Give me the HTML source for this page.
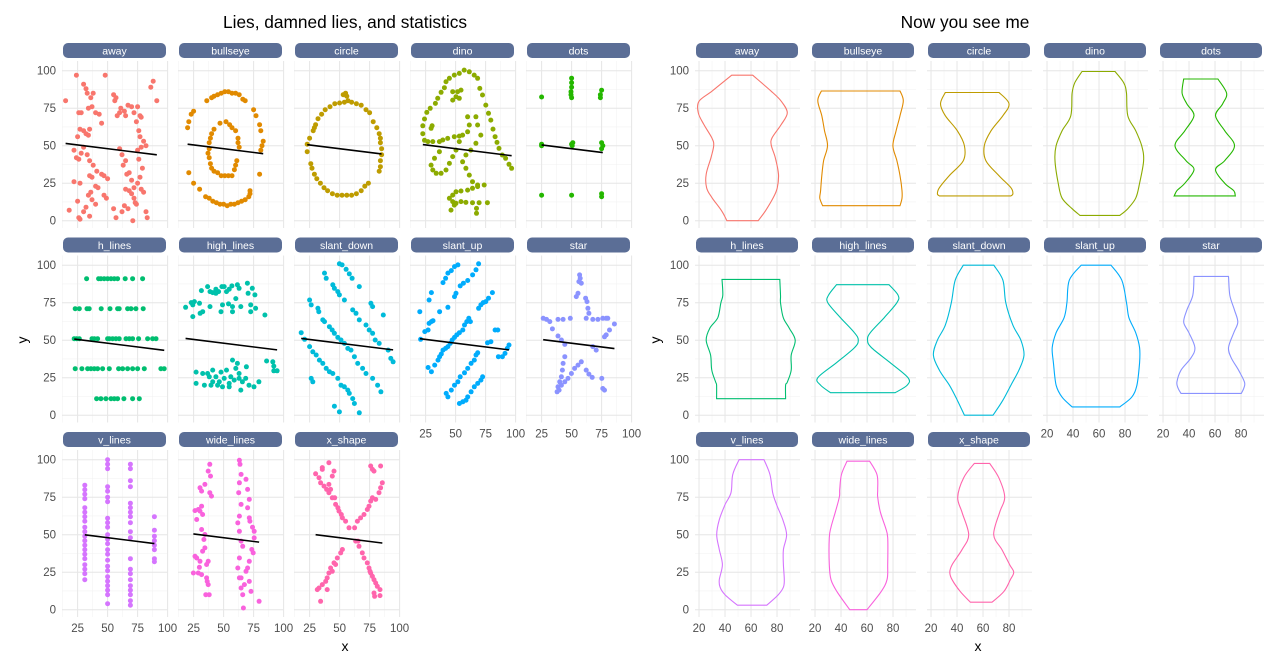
<!DOCTYPE html>
<html><head><meta charset="utf-8">
<style>
html,body{margin:0;padding:0;background:#fff;}
svg{display:block;font-family:"Liberation Sans",sans-serif;}
</style></head>
<body>
<svg id="chart" width="1280" height="667" viewBox="0 0 1280 667" xmlns="http://www.w3.org/2000/svg">
<text x="345" y="28" text-anchor="middle" font-size="17.3" fill="#000">Lies, damned lies, and statistics</text>
<text x="965" y="28" text-anchor="middle" font-size="17.3" fill="#000">Now you see me</text>
<text x="0" y="0" transform="translate(27,340) rotate(-90)" text-anchor="middle" font-size="14">y</text>
<text x="0" y="0" transform="translate(660,340) rotate(-90)" text-anchor="middle" font-size="14">y</text>
<text x="345" y="651" text-anchor="middle" font-size="14">x</text>
<text x="978" y="651" text-anchor="middle" font-size="14">x</text>
<g id="layer"></g>
</svg>
<script>
const names = ["away","bullseye","circle","dino","dots","h_lines","high_lines","slant_down","slant_up","star","v_lines","wide_lines","x_shape"];
const colors = ["#F8766D","#E18A00","#BE9C00","#8CAB00","#24B700","#00BE70","#00C1AB","#00BBDA","#00ACFC","#8B93FF","#D575FE","#F962DD","#FF65AC"];
const yTicks = [0,25,50,75,100];
const leftXTicks = [25,50,75,100];
const rightXTicks = [20,40,60,80];
const fitIntercept = 53;
const fitSlope = -0.1;

const awayPts = [[15,80],[24,97],[48,97],[91,80],[88,93],[86,89],[30,91],[32,88],[33,85],[38,85],[36,82],[28,72],[26,72],[34,75],[37,76],[40,72],[45,65],[43,71],[55,84],[57,82],[56,80],[60,72],[58,70],[61,75],[64,73],[65,70],[67,77],[70,76],[72,72],[75,76],[77,70],[78,69],[74,66],[76,60],[77,56],[80,53],[82,50],[78,49],[27,61],[30,60],[32,58],[35,61],[34,57],[25,56],[22,47],[24,42],[26,41],[28,45],[30,49],[33,44],[35,40],[38,37],[41,33],[45,31],[35,30],[37,29],[40,23],[42,22],[36,19],[34,17],[37,14],[40,11],[32,9],[25,13],[22,26],[27,25],[18,7],[26,2],[27,1],[30,6],[35,3],[47,30],[50,28],[47,17],[49,15],[55,8],[57,2],[62,6],[64,10],[65,21],[66,31],[68,32],[70,27],[72,22],[70,18],[72,15],[74,11],[67,8],[71,0],[73,12],[75,25],[77,29],[79,35],[76,41],[75,47],[78,21],[80,19],[82,6],[83,2],[62,44],[65,40],[63,37],[60,48],[68,20]];
const bullseyePts = [[45,84],[48,85],[51,86],[54,86],[57,85],[60,85],[63,84],[42,83],[40,82],[36,80],[66,81],[68,80],[75,74],[77,70],[80,64],[81,60],[83,53],[82,50],[81,47],[80,31],[72,18],[71,16],[68,14],[65,13],[62,12],[59,11],[56,11],[53,10],[50,11],[47,11],[44,12],[41,13],[38,15],[35,16],[30,21],[25,25],[21,32],[20,62],[21,66],[23,71],[25,73],[38,48],[37,45],[38,42],[39,38],[40,35],[42,33],[45,32],[48,30],[51,30],[54,30],[57,30],[38,52],[39,55],[40,58],[42,61],[47,65],[52,66],[55,64],[57,62],[60,60],[62,55],[62,52],[63,49],[61,40],[60,37],[59,34],[72,20]];
const circlePts = [[54,79],[50,78.5],[46,78],[42,76],[38,74],[35,71],[32,68],[30,64],[29,62],[28,60],[25,55],[23,51],[23,46],[26,38],[27,35],[29,31],[31,28],[34,25],[37,22],[40,20],[44,18],[48,17],[52,17],[56,17],[60,17],[64,18],[68,20],[71,23],[74,25],[83,33],[84,36],[84,40],[85,44],[85,48],[84,52],[84,55],[83,58],[81,62],[78,66],[75,72],[72,74],[68,77],[64,78],[60,79],[57,80],[53,84],[55,85],[56,83]];
const dinoPts = [[57.2,100.4],[61.4,99.3],[65.5,97.1],[68.3,94.9],[70.2,88.2],[72.4,83.8],[75.2,77.1],[77.4,71.6],[79.3,67.1],[81.2,61.1],[82.9,56],[84.5,52.2],[86.2,48.2],[88.9,43.8],[91.7,41.6],[94.5,37.6],[96.7,34.9],[53.1,98.2],[48.9,97.1],[44.8,94.9],[42,92.7],[40.7,88.7],[37.9,85.6],[35.1,81.6],[33.2,78.2],[28.8,74.9],[26,72.2],[24.1,67.8],[22.7,63.3],[22.7,58],[24.1,53.6],[26.9,52.7],[31,52.7],[36.5,52.7],[47.6,86],[51.7,86],[54.5,87.1],[50.3,82.7],[47.6,80.4],[53.1,81.6],[60,69.3],[61.4,63.8],[60,59.3],[55.8,57.1],[53.1,56.4],[48.9,56],[43.4,54.9],[39.3,53.8],[30.4,63.3],[29.6,61.6],[53.1,52.7],[50.3,47.1],[47.6,42.7],[44.8,38.2],[42,33.8],[37.9,31.6],[33.8,31.6],[31,33.8],[29.6,37.1],[32.4,41.6],[36.5,46],[66.9,69.3],[68.3,63.8],[71,57.1],[66.9,51.6],[62.7,47.1],[58.6,43.8],[55.8,39.3],[58.6,34.9],[61.4,30.4],[64.1,26],[68.3,23.8],[73.8,23.8],[44.8,14.9],[47.6,17.1],[50.3,19.3],[54.5,19.8],[60,20.4],[64.1,21.6],[68.3,22.7],[47.6,12.7],[50.3,11.6],[54.5,12.7],[58.6,12.2],[64.1,12],[69.6,12],[76.5,12],[67.4,8.2],[67.4,4.9],[46.2,7.1],[48.9,10.4]];
const dotsPts = [[25,82.5],[25,51],[25,17],[50,95],[50,92],[50,89],[49.5,86],[49.5,84],[50,82],[51,52],[50.5,50],[50,17],[75,87],[74,84],[74,82],[75,52],[76,50],[75,48],[75,16],[75,18],[50,51],[25,50]];
const hLinesPts = [[32.5,91],[42.5,91],[44.4,91],[47.2,91],[50,91],[52.8,91],[55.6,91],[58.3,91],[64.7,91],[70.8,91],[79.2,91],[23,71],[26.4,71],[32.8,71],[34.7,71],[44.7,71],[52,71],[58.3,71],[59.7,71],[66.7,71],[69.5,71],[73.6,71],[79.7,71],[22.2,51],[24.2,51],[26.4,51],[37,51],[38.9,51],[41.7,51],[50,51],[51.4,51],[54.2,51],[56.9,51],[59.7,51],[65.3,51],[68.1,51],[70.8,51],[75.8,51],[83.3,51],[87.5,51],[90.3,51],[23,31],[28.6,31],[33.3,31],[36.1,31],[38.9,31],[41.7,31],[45.8,31],[51.4,31],[59.2,31],[62.5,31],[66.7,31],[70.8,31],[75,31],[80.6,31],[94.4,31],[97.2,31],[40.8,11],[44.4,11],[48.6,11],[52.8,11],[55.6,11],[58.3,11],[63.6,11],[70.8,11],[76.4,11]];
const highLinesPts = [[18.3,71.9],[23,75.1],[24.3,73.5],[25.7,75.7],[29.9,74.6],[31.5,83.1],[32.6,69],[30.4,67.9],[36.7,85.7],[38.7,82.4],[40.9,81.7],[43.6,84],[45.8,82.4],[50.5,85.7],[52.4,82.4],[54.7,84],[56.9,86.2],[61.5,86.9],[62.9,84.6],[60.2,77.7],[57.4,72.4],[54.1,74.2],[49.1,73.5],[47.8,69],[57.4,69],[64.3,72.4],[69.8,88],[70.4,81.3],[73.9,84.6],[76.1,80.2],[72.6,73.5],[76.7,71.3],[72.6,69],[84.4,66.8],[24.3,65.7],[38.7,72.4],[43.6,81.3],[48.6,85.7],[27.1,28.7],[32.6,27.8],[38.1,25.6],[40.9,22.3],[45,20],[49.1,18.9],[54.7,21.2],[58.8,23.4],[62.9,24.5],[65.7,22.3],[68.4,24.5],[71.2,20],[64.3,16.7],[57.4,36.7],[61.5,34.5],[60.2,31.2],[52.4,30.1],[47.8,28.7],[40.9,30.1],[36.7,27.8],[27.1,21.2],[34,20],[39.5,20],[50.5,24.5],[56,25.6],[62.9,27.8],[69,32.3],[79.4,22.3],[85.8,36.1],[91,35.6],[91.8,32.7],[91.8,29.6],[94.6,29.6],[75.3,18.9],[54.7,18.9],[46.4,22.3],[43.6,25.6]];
const slantDownPts = [[18,55],[20.8,50.6],[25,45.7],[27.7,42.3],[30.5,40.1],[33.2,36.7],[36,34.5],[38.8,31.2],[41.5,29],[44.3,27.8],[26.3,24.5],[27.7,22.3],[25,76.8],[26.3,73.5],[31.9,71.3],[32.7,69],[36,63.5],[37.4,62.4],[41.5,59],[43.8,56.8],[45.7,54.6],[48.5,51.9],[51.2,50.1],[54,47.9],[56.8,44.5],[59.5,43.4],[62.3,39],[65.1,34.5],[69.2,31.2],[72,27.8],[77.5,24.5],[81.7,20],[84.4,15.6],[37.4,94.7],[38.8,91.3],[44.3,86.9],[45.7,84.6],[48.5,82.4],[49.8,80.2],[54,76.8],[60.9,70.2],[63.7,67.9],[66.4,63.5],[72,60.1],[74.7,56.8],[77.5,54.6],[79.7,50.1],[83,47.9],[90.5,43.4],[92.7,37.9],[94.6,35.6],[49.8,100.9],[52.1,100.2],[55.4,97.3],[58.1,94.2],[60.4,91.3],[66.4,85.7],[76.1,74.6],[77.5,72.4],[86.4,66.8],[48.5,24.5],[51.2,20],[54,18.9],[56.8,16.7],[58.1,14.5],[60.9,11.1],[62.3,7.8],[45.7,6],[49.8,2.2],[66.4,1.6]];
const slantUpPts = [[20.2,69],[20.8,50.6],[24.3,55.7],[27.1,56.8],[27.9,61.2],[29.8,62.4],[31.2,63],[27.1,31.8],[29.8,29],[32.6,33.4],[35.3,36.7],[36.7,39],[38.1,40.8],[39.5,43.4],[41.7,44.5],[43.6,45.7],[45.5,47.9],[47.2,50.1],[49.1,51.9],[51,53.5],[53.2,55],[56,56.8],[27.9,76.8],[29.8,81.7],[36.7,69],[43.6,71.9],[39.5,88.4],[41.7,91.3],[43.6,94.7],[46.4,96.4],[49.1,99.1],[51.9,100.2],[49.1,79.1],[50.3,81.3],[53.8,86.2],[56.5,88],[60.1,89.8],[64.2,93.5],[67,96.9],[69.2,100.9],[42.2,14.5],[43.6,12.2],[46.4,16.7],[49.1,20],[51.9,22.3],[53.8,25.6],[57.4,28.3],[60.1,31.2],[62.9,34.5],[65.6,36.7],[67,40.1],[68.4,41.6],[53.2,7.8],[56,8.9],[58.7,10],[60.1,12.2],[62.9,15.6],[65.6,18.9],[68.4,21.2],[71.1,23.4],[72.5,25.6],[57.4,60.1],[59.3,62.4],[61,64.6],[62.3,62.4],[69.2,71.3],[71.1,73.5],[73,75.1],[75.2,75.7],[77.4,78],[80.7,81.7],[76.6,48.3],[79.4,49],[82.9,56.8],[85.2,56.8],[85.7,39],[89,39],[91.2,41.2],[93.1,44.5],[94.5,46.8]];
const starPts = [[56.7,93.5],[57.2,91.3],[56.1,89.1],[58.1,88],[55.3,81.3],[53.9,79.1],[61.7,78],[62.8,75.7],[63.6,71.3],[64.4,67.9],[62.2,64.6],[67.7,63.9],[71.9,63.9],[76,64.6],[78.8,64.6],[80.2,64.6],[85.7,60.8],[81.6,56.8],[78.8,53.5],[77.4,52.3],[26.3,64.6],[29.1,63.9],[31.8,62.4],[34,57.5],[38.7,63.9],[42.9,63.9],[48.9,64.6],[38.7,52.8],[41.5,50.1],[44.3,47.2],[67.7,45.7],[70.5,43.4],[44.3,39],[42.9,34.5],[42.3,30.1],[41.5,25.6],[40.1,22.3],[38.7,18.9],[37.9,15.6],[39.6,16.7],[41.5,20],[44.3,22.3],[47,24.5],[49.8,27.8],[52.5,31.2],[55.3,33.4],[58.1,35.6],[62.2,30.1],[64.4,27.4],[67.2,25.2],[75.2,24.5],[76,17.8],[77.4,16.7]];
const vLinesPts = [[31,83],[31,80],[31,77],[31,74],[31,68],[31,65],[31,62],[31,59],[31,55],[31,52],[31,49],[31,46],[31,43],[31,40],[31,37],[31,34],[31,30],[31,27],[31,24],[31,20],[50,100],[50,97],[50,94],[50,82],[50,79],[50,75],[50,72],[50,61],[50,58],[50,55],[50,50],[50,47],[50,44],[50,40],[50,37],[50,33],[50,29],[50,26],[50,22],[50,19],[50,16],[50,13],[50,10],[50,4],[69,97],[69,94],[69,86],[69,82],[69,71],[69,68],[69,65],[69,62],[69,58],[69,52],[69,48],[69,34],[69,27],[69,24],[69,20],[69,16],[69,13],[69,10],[69,6],[69,3],[89,62],[89,53],[89,49],[89,46],[89,43],[89,40],[89,34],[89,32]];
const wideLinesPts = [[26.2,66.1],[27.6,60.1],[28.9,66.8],[30.3,65.7],[31.7,69],[32.5,63.5],[30.3,81.3],[31.7,79.1],[34.4,83.5],[37.2,92.4],[38.5,96.9],[39.1,89.1],[38.5,78],[39.9,75.7],[34.4,50.1],[31.7,53.5],[33.6,46.8],[26.2,35.6],[27.6,34.5],[30.3,32.3],[32.5,39],[34.4,41.2],[35.8,30.1],[37.2,32.3],[36.3,18.9],[37.2,16.7],[38,10],[35.2,10],[28.9,24.5],[31.7,23.4],[24.8,24.5],[35.8,21.2],[29.8,28.3],[63.2,99.6],[63.7,96.9],[64.6,90.2],[63.2,84.6],[62.6,78],[64.6,70.2],[63.2,62.4],[61.8,57.9],[63.2,52.3],[64.6,45.7],[65.9,42.3],[63.2,34.5],[61.8,27.8],[63.2,21.2],[64.6,14.5],[65.9,10],[66.5,1.1],[68.7,86.9],[70,80.2],[71.4,73.5],[70,67.9],[71.4,61.2],[71.9,59],[74.1,55],[75.5,47.9],[73.5,40.1],[74.7,37.9],[71.4,32.3],[70,27.8],[71.4,18.9],[72.8,12.2],[67.3,16.7],[79.6,5.6],[75.5,52.3],[64.6,21.2],[68.7,25.6]];
const xShapePts = [[30,90.6],[32.8,88],[34.2,84.6],[37,82.4],[39.2,80.2],[41.1,78],[43.9,74.6],[46.7,70.2],[49.5,65.7],[52.3,61.2],[55,59],[57.8,54.6],[35.6,94.7],[35.6,93.5],[41.1,83.5],[42.5,80.2],[45.9,74.6],[48.6,67.9],[51.4,63.5],[41.1,98],[45.3,92.4],[43.9,89.1],[63.4,45.7],[66.2,42.3],[68.9,37.9],[70.3,34.5],[73.1,31.2],[74.5,27.8],[75.9,24.5],[77.3,22.3],[78.7,20],[80.1,17.8],[81.4,15.6],[83.7,13.4],[78.7,11.1],[79.2,8.9],[83.7,9.4],[75.3,25.6],[85.6,84.6],[84.2,81.3],[82.8,78],[80.1,73.5],[77.3,74.6],[75.9,72.4],[74.5,69],[73.1,66.8],[70.3,63.5],[67.5,61.2],[64.8,59],[62.5,54.6],[77.3,93.5],[78.7,92.4],[84.2,95.8],[75.9,95.8],[52.3,40.1],[50.9,37.9],[48.1,34.5],[45.3,31.2],[42.5,27.8],[41.1,24.5],[39.7,21.2],[38.4,18.9],[35.6,16.7],[32.8,14.5],[31.4,13.4],[39.7,13.4],[34.2,5.6],[43.9,25.6],[46.7,30.1],[65.3,45.7]];
const scatterData = [awayPts,bullseyePts,circlePts,dinoPts,dotsPts,hLinesPts,highLinesPts,slantDownPts,slantUpPts,starPts,vLinesPts,wideLinesPts,xShapePts];

// violin outlines: [y, leftX, rightX]
const awayViolin = [[0,41.4,65.5],[6.6,37.4,71.1],[15.5,29.8,77.2],[22,25.8,80.2],[31,25.5,81.1],[42,29.2,78.7],[50.2,31.3,75.6],[55.3,29.8,76.2],[64.2,23.7,83.3],[71.9,19.4,87.9],[79.6,20,83.3],[86.3,29.8,75.6],[97,45.1,61.3]];
const bullseyeViolin = [[10,25.8,85.4],[15,23.7,86.9],[20,24.3,86.9],[30,25.2,85.4],[40,26.6,83],[50,29.6,79.9],[60,27.3,82.4],[70,25.2,85.4],[80,22.1,87.9],[86.5,24.9,85.4]];
const circleViolin = [[16.5,26.4,81.4],[18,24.9,83],[22,26.4,81.4],[30,34,72.3],[40,44.8,62.2],[50,45.7,61],[60,40.2,66.2],[70,31,75.3],[78,27.3,80],[85.5,31,72.3]];
const dinoViolin = [[3.5,45.4,76],[8,39.3,82.1],[15,31.6,88.2],[25,28.6,91.2],[40,26.1,94.3],[50,27,92.8],[60,31.6,88.2],[70,38.3,82.1],[85,39.3,81.1],[92,41.4,79],[99.5,46.9,72.3]];
const dotsViolin = [[16.5,28.6,75.6],[20,30.7,74.4],[25,36.8,67.4],[34,43.8,60.4],[40,37.7,67.4],[50,29.2,75],[60,36.8,67.4],[70,43.8,60.4],[78,38.3,65.9],[85,34.7,68.9],[94.5,35.9,62.2]];
const hLinesViolin = [[11,33.5,86.6],[20,33.5,86.6],[22,32.8,87.9],[30,29.8,90.9],[40,28.9,90.9],[50,25.5,94],[58,28.3,89.4],[65,34.4,84.8],[75,36.8,82.7],[80,38.3,82.7],[90.5,37.7,82.1]];
const highLinesViolin = [[15,31.9,81.7],[20,24.3,90.9],[25,22.1,91.5],[35,36.5,77.8],[45,50.3,63.4],[50,53.3,60.4],[55,50.3,62.5],[65,39.6,73.2],[75,29.8,83],[80,30.4,83.9],[87,36.5,76.9]];
const slantDownViolin = [[0,45.7,67.7],[10,40.2,75.3],[20,34.1,81.4],[30,26.4,87.6],[40,21.8,91.5],[50,24.9,89.1],[60,31,83],[75,35.6,77.5],[90,38.6,75.3],[100,44.8,68.3]];
const slantUpViolin = [[5.5,39.3,76],[12,31.6,85.1],[20,27,89.1],[35,24.9,91.2],[45,24,91.2],[55,27,88.2],[65,33.1,83],[75,35.3,81.1],[90,37.1,77.5],[100,46.3,69.2]];
const starViolin = [[14.5,33.8,80.2],[18,31.6,82.1],[22,30.7,82.7],[30,33.8,78.1],[38,41.4,72.6],[45,44.5,70.4],[55,39.9,74.4],[62,35.9,77.5],[70,38.3,75],[80,42.9,71.4],[92.5,43.8,70.4]];
const vLinesViolin = [[3,49.5,72.1],[10,40,81],[15,36.2,84.9],[20,35.6,85.6],[30,38,84.9],[40,35.6,84.9],[50,33.6,87.4],[60,35.6,84.4],[70,40,79.7],[78,44.6,76.7],[90,45.9,74.6],[100,50.8,70]];
const wideLinesViolin = [[0,46.7,60],[12,36.9,70.8],[20,32.3,75.4],[30,31,75.9],[48,31,75.9],[55,32.3,74.1],[65,35.6,70.3],[75,38.7,68.2],[80,39,68.2],[90,40.3,67.7],[99,44.6,62]];
const xShapeViolin = [[5,50.3,66.9],[12,42.6,75.9],[20,36.2,81],[25,34.4,83.6],[30,36.2,80.5],[40,43.8,74.6],[50,49,68.2],[65,43.8,72.8],[75,40.5,76.7],[88,45.1,72.1],[97.5,53.3,65.1]];
const violinData = [awayViolin,bullseyeViolin,circleViolin,dinoViolin,dotsViolin,hLinesViolin,highLinesViolin,slantDownViolin,slantUpViolin,starViolin,vLinesViolin,wideLinesViolin,xShapeViolin];

const NS = "http://www.w3.org/2000/svg";
const layer = document.getElementById('layer');
function mk(tag, attrs, parent){
  const e = document.createElementNS(NS, tag);
  for (const k in attrs) e.setAttribute(k, attrs[k]);
  (parent||layer).appendChild(e);
  return e;
}
const STRIP0 = 43, ROWSTEP = 194.5;
function yScale(row, v){ return STRIP0 + ROWSTEP*row + 27.7 + (100 - v)*1.5; }
const L = {x0:62, w:106, xmin:12, k:1.2, major:[25,50,75,100], minor:[12.5,37.5,62.5,87.5], ticks:leftXTicks};
const R = {x0:695, w:105, xmin:16.9, k:1.3, major:[20,40,60,80], minor:[30,50,70,90], ticks:rightXTicks};
function xScale(side, col, v){ return side.x0 + 116*col + (v - side.xmin)*side.k; }

function panelFrame(side, i, sideName){
  const row = Math.floor(i/5), col = i%5;
  const g = mk('g', {});
  
  
  const top = STRIP0 + ROWSTEP*row + 18, bot = STRIP0 + ROWSTEP*row + 185;
  const left = side.x0 + 116*col, right = left + side.w;
  [12.5,37.5,62.5,87.5].forEach(v=>{ mk('line',{x1:left,x2:right,y1:yScale(row,v),y2:yScale(row,v),stroke:'#f3f3f3','stroke-width':0.6},g); });
  side.minor.forEach(v=>{ const x=xScale(side,col,v); mk('line',{x1:x,x2:x,y1:top,y2:bot,stroke:'#f3f3f3','stroke-width':0.6},g); });
  yTicks.forEach(v=>{ mk('line',{x1:left,x2:right,y1:yScale(row,v),y2:yScale(row,v),stroke:'#e6e6e6','stroke-width':1},g); });
  side.major.forEach(v=>{ const x=xScale(side,col,v); mk('line',{x1:x,x2:x,y1:top,y2:bot,stroke:'#e6e6e6','stroke-width':1},g); });
  const sy = STRIP0 + ROWSTEP*row;
  const st = mk('rect',{x:left+1,y:sy,width:side.w-3,height:15,rx:5,fill:'#5B6E96'},g);
  
  
  const tx = mk('text',{x:left+side.w/2-0.5,y:sy+11.3,'text-anchor':'middle','font-size':10.5,fill:'#ffffff'},g);
  tx.textContent = names[i];
  if (col === 0){
    yTicks.forEach(v=>{
      const t = mk('text',{x:left-6,y:yScale(row,v)+4,'text-anchor':'end','font-size':11.5,fill:'#4d4d4d'},g);
      
      
      t.textContent = v;
    });
  }
  if (row === 2 || (row === 1 && col >= 3)){
    side.ticks.forEach(v=>{
      const t = mk('text',{x:xScale(side,col,v),y:bot+15,'text-anchor':'middle','font-size':11.5,fill:'#4d4d4d'},g);
      
      
      t.textContent = v;
    });
  }
  return g;
}

for (let i=0;i<names.length;i++){
  const g = panelFrame(L, i, 'scatter');
  const row = Math.floor(i/5), col = i%5;
  const pts = scatterData[i];
  pts.forEach(p=>{
    const c = mk('circle',{cx:xScale(L,col,p[0]).toFixed(1),cy:yScale(row,p[1]).toFixed(1),r:2.5,fill:colors[i]},g);
    
    
  });
  const xs = pts.map(p=>p[0]);
  const x1 = Math.min(...xs), x2 = Math.max(...xs);
  const ln = mk('line',{x1:xScale(L,col,x1),y1:yScale(row,fitIntercept+fitSlope*x1),x2:xScale(L,col,x2),y2:yScale(row,fitIntercept+fitSlope*x2),stroke:'#000','stroke-width':1.6},g);
  
  
}

function smoothPath(pts){
  let d = '';
  for (let k=0;k<pts.length-1;k++){
    const p0 = pts[Math.max(0,k-1)], p1 = pts[k], p2 = pts[k+1], p3 = pts[Math.min(pts.length-1,k+2)];
    const c1x = p1[0] + (p2[0]-p0[0])/6, c1y = p1[1] + (p2[1]-p0[1])/6;
    const c2x = p2[0] - (p3[0]-p1[0])/6, c2y = p2[1] - (p3[1]-p1[1])/6;
    d += ' C' + c1x.toFixed(1)+','+c1y.toFixed(1)+' '+c2x.toFixed(1)+','+c2y.toFixed(1)+' '+p2[0].toFixed(1)+','+p2[1].toFixed(1);
  }
  return d;
}
for (let i=0;i<names.length;i++){
  const g = panelFrame(R, i, 'violin');
  const row = Math.floor(i/5), col = i%5;
  const v = violinData[i];
  const leftPts = v.map(r=>[xScale(R,col,r[1]), yScale(row,r[0])]);
  const rightPts = v.slice().reverse().map(r=>[xScale(R,col,r[2]), yScale(row,r[0])]);
  let d = 'M' + leftPts[0][0].toFixed(1) + ',' + leftPts[0][1].toFixed(1) + smoothPath(leftPts);
  d += ' L' + rightPts[0][0].toFixed(1) + ',' + rightPts[0][1].toFixed(1) + smoothPath(rightPts) + ' Z';
  const p = mk('path',{d:d,fill:'none',stroke:colors[i],'stroke-width':1.1},g);
  
  
}
</script>
</body></html>
